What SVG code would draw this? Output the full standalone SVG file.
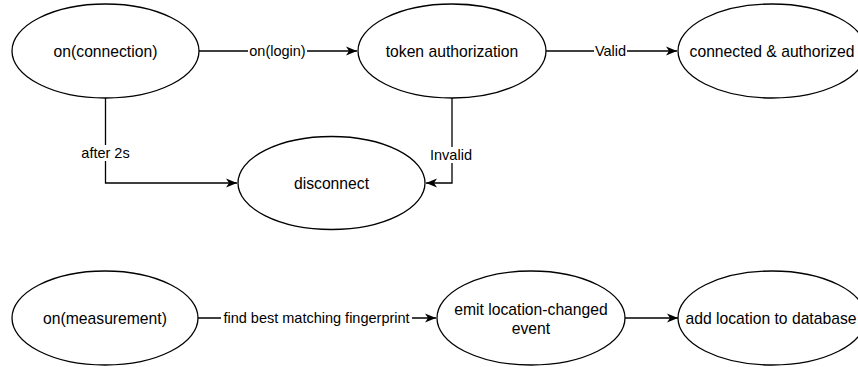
<svg xmlns="http://www.w3.org/2000/svg" width="858" height="367" viewBox="0 0 858 367">
<defs>
<style>
.n ellipse{fill:#fff;stroke:#000;stroke-width:1.3}
.n text{font-family:"Liberation Sans",Arial,sans-serif;font-size:15.7px;fill:#000;text-anchor:middle;dominant-baseline:central}
.e path{fill:none;stroke:#000;stroke-width:1.3}
.lbl{font-family:"Liberation Sans",Arial,sans-serif;font-size:14.5px;fill:#000;text-anchor:middle;dominant-baseline:central}
.bg{fill:#fff}
</style>
<marker id="arr" markerUnits="userSpaceOnUse" markerWidth="12" markerHeight="10" refX="11" refY="5" orient="auto">
<path d="M0,0.5 L11,5 L0,9.5 L3,5 z" fill="#000"/>
</marker>
</defs>
<rect width="858" height="367" fill="#fff"/>
<g id="connectors" class="e">
<path d="M199,51 H357" marker-end="url(#arr)"/>
<path d="M546,51 H677" marker-end="url(#arr)"/>
<path d="M105.5,98 V183 H237" marker-end="url(#arr)"/>
<path d="M452,98 V183 H426" marker-end="url(#arr)"/>
<path d="M198,318 H436" marker-end="url(#arr)"/>
<path d="M625,318 H678" marker-end="url(#arr)"/>
<rect class="bg" x="248" y="43" width="59" height="16"/>
<text class="lbl" x="277.5" y="51">on(login)</text>
<rect class="bg" x="594" y="43" width="33" height="16"/>
<text class="lbl" x="610.5" y="51">Valid</text>
<rect class="bg" x="78" y="145" width="55" height="16"/>
<text class="lbl" x="105.5" y="153">after 2s</text>
<rect class="bg" x="428" y="147" width="46" height="16"/>
<text class="lbl" x="451" y="155">Invalid</text>
<rect class="bg" x="221" y="310" width="191" height="16"/>
<text class="lbl" x="316.5" y="318">find best matching fingerprint</text>
</g>
<g id="on-connection" class="n"><ellipse cx="105.5" cy="51" rx="93.5" ry="47"/><text x="105.5" y="51">on(connection)</text></g>
<g id="token-authorization" class="n"><ellipse cx="452" cy="51" rx="94" ry="47"/><text x="452" y="51">token authorization</text></g>
<g id="connected-authorized" class="n"><ellipse cx="772" cy="51" rx="94" ry="47"/><text x="772" y="51">connected &amp; authorized</text></g>
<g id="disconnect" class="n"><ellipse cx="331.5" cy="183" rx="93.5" ry="46.5"/><text x="331.5" y="183">disconnect</text></g>
<g id="on-measurement" class="n"><ellipse cx="105" cy="318" rx="93" ry="47"/><text x="105" y="318">on(measurement)</text></g>
<g id="emit-location" class="n"><ellipse cx="531" cy="318" rx="94" ry="47"/><text x="531" y="309">emit location-changed</text><text x="531" y="328">event</text></g>
<g id="add-location" class="n"><ellipse cx="772" cy="318" rx="94" ry="47"/><text x="771" y="318">add location to database</text></g>
</svg>
